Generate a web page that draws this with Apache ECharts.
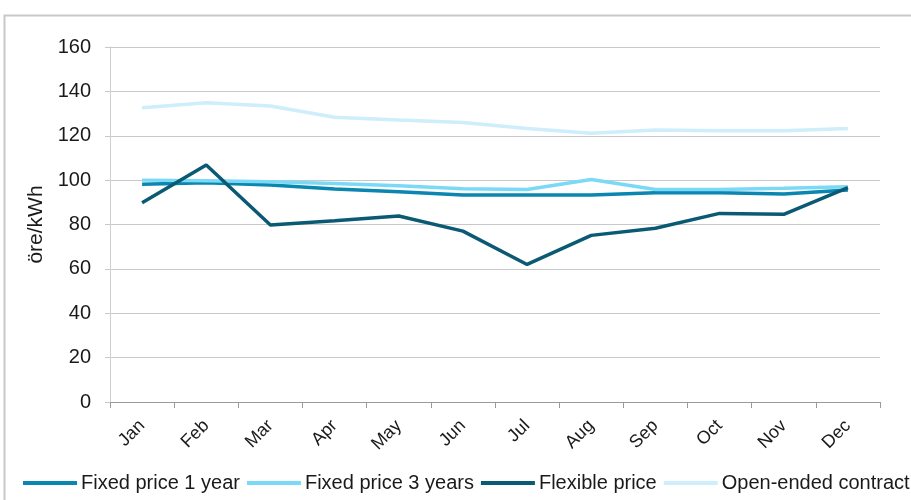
<!DOCTYPE html>
<html>
<head>
<meta charset="utf-8">
<script src="https://cdn.jsdelivr.net/npm/echarts@6/dist/echarts.min.js"></script>
<style>
    html, body { margin: 0; padding: 0; background: #fff; }
    #chart { width: 911px; height: 500px; }
</style>
</head>
<body>
<div id="chart"></div>
<script>
// months
const months = ['Jan', 'Feb', 'Mar', 'Apr', 'May', 'Jun', 'Jul', 'Aug', 'Sep', 'Oct', 'Nov', 'Dec'];
// series values, öre/kWh
const fixed1Year = [98.1, 98.8, 97.8, 96, 94.8, 93.3, 93.3, 93.3, 94.3, 94.3, 93.7, 95.5];
const fixed3Years = [100, 99.7, 99.3, 98.5, 97.5, 96.1, 95.8, 100.3, 95.8, 95.8, 96.3, 97];
const flexible = [89.8, 106.8, 79.8, 81.7, 83.8, 77, 62, 75.1, 78.3, 85, 84.6, 96.6];
const openEnded = [132.6, 134.9, 133.4, 128.3, 127.1, 126, 123.3, 121.1, 122.6, 122.3, 122.3, 123.3];
// y axis
const yTicks = [0, 20, 40, 60, 80, 100, 120, 140, 160];

const font = 'Liberation Sans';

function lineSeries(name, data, color) {
    return {
        name: name,
        type: 'line',
        data: data,
        symbol: 'none',
        color: color,
        lineStyle: { width: 3.5, color: color },
    };
}

const chart = echarts.init(document.getElementById('chart'));
chart.setOption({
    animation: false,
    textStyle: { fontFamily: font },
    // outer chart frame
    graphic: [
        {
            type: 'rect',
            shape: { x: 4.5, y: 15.5, width: 920, height: 500 },
            style: { fill: 'none', stroke: '#c8c8c8', lineWidth: 2 },
            silent: true,
        },
    ],
    grid: {
        left: 110,
        right: 31,
        top: 47,
        bottom: 98,
    },
    legend: {
        left: 23,
        top: 473,
        width: 1400,
        padding: 0,
        itemWidth: 54,
        itemHeight: 4,
        itemGap: 7,
        icon: 'rect',
        textStyle: { fontSize: 20, color: '#1a1a1a', fontFamily: font, padding: [0, 0, 0, -1] },
        data: ['Fixed price 1 year', 'Fixed price 3 years', 'Flexible price', 'Open-ended contract'],
    },
    xAxis: {
        type: 'category',
        data: months,
        boundaryGap: true,
        axisLine: { lineStyle: { color: '#9a9a9a', width: 1 } },
        axisTick: { show: true, length: 6, lineStyle: { color: '#9a9a9a' } },
        axisLabel: {
            rotate: 45,
            fontSize: 18,
            color: '#1a1a1a',
            margin: 21,
            interval: 0,
        },
    },
    yAxis: {
        type: 'value',
        min: yTicks[0],
        max: yTicks[yTicks.length - 1],
        interval: 20,
        name: 'öre/kWh',
        nameLocation: 'middle',
        nameGap: 60,
        nameTextStyle: { fontSize: 21, color: '#1a1a1a', fontFamily: font },
        axisLine: { show: true, lineStyle: { color: '#d0d0d0' } },
        axisTick: { show: true, length: 5, lineStyle: { color: '#c8c8c8' } },
        axisLabel: { fontSize: 20, color: '#1a1a1a', margin: 19 },
        splitLine: { lineStyle: { color: '#c8c8c8', width: 1 } },
    },
    series: [
        lineSeries('Fixed price 1 year', fixed1Year, '#0a86b0'),
        lineSeries('Fixed price 3 years', fixed3Years, '#7bd9f8'),
        lineSeries('Flexible price', flexible, '#0b5a74'),
        lineSeries('Open-ended contract', openEnded, '#cdeefa'),
    ],
});
</script>
</body>
</html>
